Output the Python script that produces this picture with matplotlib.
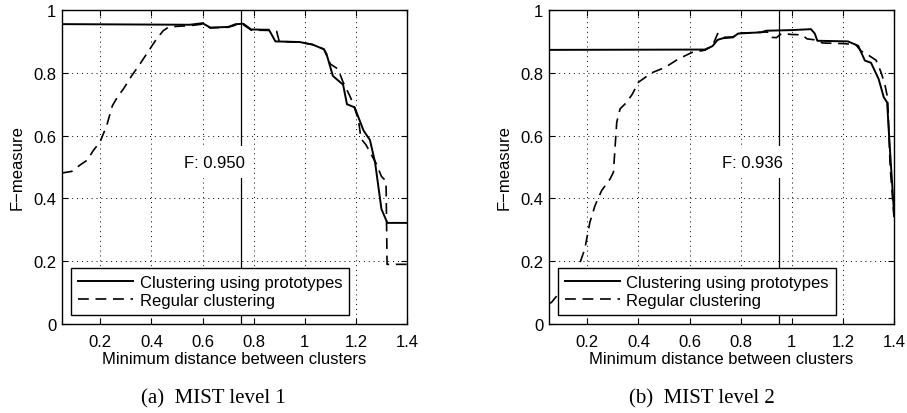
import matplotlib
matplotlib.use("Agg")
import matplotlib.pyplot as plt

# ---------------- data ----------------
xticks = [0.2, 0.4, 0.6, 0.8, 1.0, 1.2, 1.4]
xtick_labels = ["0.2", "0.4", "0.6", "0.8", "1", "1.2", "1.4"]
yticks = [0, 0.2, 0.4, 0.6, 0.8, 1.0]
ytick_labels = ["0", "0.2", "0.4", "0.6", "0.8", "1"]

# (a) MIST level 1
a_proto_x = [0.05, 0.55, 0.60, 0.63, 0.70, 0.73, 0.76, 0.79, 0.86, 0.885, 0.98, 1.03, 1.075,
             1.085, 1.11, 1.15, 1.165, 1.195, 1.23, 1.255, 1.275, 1.30, 1.323, 1.40]
a_proto_y = [0.955, 0.953, 0.958, 0.944, 0.946, 0.955, 0.956, 0.938, 0.937, 0.900, 0.898, 0.890, 0.875,
             0.860, 0.790, 0.762, 0.700, 0.690, 0.616, 0.586, 0.515, 0.366, 0.322, 0.322]
a_reg_x = [0.05, 0.088, 0.12, 0.149, 0.172, 0.199, 0.225, 0.247, 0.27, 0.29, 0.323, 0.355, 0.394,
           0.42, 0.446, 0.466, 0.50, 0.55, 0.60, 0.63, 0.70, 0.73, 0.76, 0.79, 0.86, 0.89, 0.90,
           0.98, 1.03, 1.075, 1.10, 1.13, 1.15, 1.177, 1.19, 1.21, 1.22, 1.24, 1.26, 1.28, 1.30,
           1.318, 1.322, 1.40]
a_reg_y = [0.481, 0.486, 0.506, 0.522, 0.552, 0.580, 0.632, 0.695, 0.727, 0.748, 0.791, 0.828, 0.876,
           0.908, 0.934, 0.945, 0.948, 0.950, 0.955, 0.943, 0.945, 0.952, 0.953, 0.936, 0.935, 0.932, 0.900,
           0.897, 0.890, 0.875, 0.828, 0.812, 0.770, 0.725, 0.700, 0.650, 0.590, 0.570, 0.540, 0.510, 0.470,
           0.455, 0.190, 0.190]
a_best_x = 0.75
a_best_label = "F: 0.950"

# (b) MIST level 2
b_proto_x = [0.05, 0.66, 0.69, 0.71, 0.73, 0.77, 0.79, 0.88, 0.90, 0.95, 1.00, 1.075, 1.09, 1.10,
             1.22, 1.26, 1.286, 1.31, 1.34, 1.36, 1.373, 1.384, 1.40]
b_proto_y = [0.873, 0.874, 0.885, 0.905, 0.910, 0.913, 0.925, 0.929, 0.934, 0.935, 0.936, 0.939, 0.925, 0.902,
             0.900, 0.886, 0.839, 0.832, 0.780, 0.722, 0.706, 0.557, 0.356]
b_reg_x = [0.05, 0.06, 0.086, 0.165, 0.19, 0.21, 0.23, 0.256, 0.289, 0.302, 0.308, 0.315, 0.328, 0.354,
           0.376, 0.40, 0.452, 0.504, 0.556, 0.61, 0.66, 0.69, 0.71, 0.73, 0.77, 0.79, 0.88, 0.905, 0.915,
           0.94, 0.96, 1.00, 1.04, 1.06, 1.09, 1.12, 1.20, 1.25, 1.27, 1.30, 1.33, 1.35, 1.365, 1.375,
           1.385, 1.40]
b_reg_y = [0.065, 0.069, 0.095, 0.180, 0.239, 0.324, 0.377, 0.425, 0.462, 0.483, 0.557, 0.642, 0.685, 0.706,
           0.732, 0.770, 0.800, 0.817, 0.844, 0.865, 0.872, 0.886, 0.925, 0.913, 0.914, 0.926, 0.929, 0.930, 0.913,
           0.912, 0.925, 0.922, 0.921, 0.908, 0.905, 0.895, 0.893, 0.890, 0.870, 0.856, 0.840, 0.800, 0.760, 0.720,
           0.500, 0.340]
b_best_x = 0.95
b_best_label = "F: 0.936"

captions = ["(a)  MIST level 1", "(b)  MIST level 2"]
legend_labels = ["Clustering using prototypes", "Regular clustering"]
xlabel = "Minimum distance between clusters"
ylabel = "F\u2212measure"

# ---------------- style ----------------
plt.rcParams['font.family'] = ['Liberation Sans', 'DejaVu Sans']
plt.rcParams['font.size'] = 12

W, H = 907, 414
fig = plt.figure(figsize=(W / 100, H / 100), dpi=100)

panels = [
    (62, a_proto_x, a_proto_y, a_reg_x, a_reg_y, a_best_x, a_best_label, 213),
    (549, b_proto_x, b_proto_y, b_reg_x, b_reg_y, b_best_x, b_best_label, 702),
]

for i, (left, px, py, rx, ry, bx, blabel, capx) in enumerate(panels):
    ax = fig.add_axes([left / W, 1 - 325 / H, 345 / W, 314 / H])
    ax.set_xlim(0.05, 1.4)
    ax.set_ylim(0, 1)
    ax.set_xticks(xticks)
    ax.set_xticklabels(xtick_labels)
    ax.set_yticks(yticks)
    ax.set_yticklabels(ytick_labels)
    ax.grid(True, linestyle=(0, (1, 4)), color='black', linewidth=0.7)
    ax.tick_params(direction='in', length=4, width=0.8, top=True, right=True,
                   colors='black', labelsize=12)
    ax.tick_params(axis='x', pad=7)
    ax.tick_params(axis='y', pad=4)
    for s in ax.spines.values():
        s.set_linewidth(1.0)

    ax.plot(px, py, color='black', linewidth=1.4, label=legend_labels[0], zorder=3)
    ax.plot(rx, ry, color='black', linewidth=1.2, linestyle=(0, (6.5, 4)),
            label=legend_labels[1], zorder=3)
    ax.axvline(bx, color='black', linewidth=0.9, zorder=4)
    ax.text(bx + 0.015, 0.515, blabel, ha='right', va='center', fontsize=12, zorder=5,
            bbox=dict(facecolor='white', edgecolor='none', pad=6))

    leg = ax.legend(loc='lower left', bbox_to_anchor=(0.0, 0.0), fancybox=False,
                    framealpha=1, edgecolor='black', handlelength=3.3,
                    borderaxespad=0.55, borderpad=0.4, labelspacing=0.2, handletextpad=0.4,
                    fontsize=12)
    leg.get_frame().set_linewidth(1.0)
    leg.set_zorder(6)

    ax.set_xlabel(xlabel, labelpad=2)
    ax.set_ylabel(ylabel, labelpad=6)

    fig.text(capx / W, 1 - 399 / H, captions[i], ha='center', va='center',
             family=['Liberation Serif', 'DejaVu Serif'], fontsize=15)

fig.savefig('out.png', dpi=100)
